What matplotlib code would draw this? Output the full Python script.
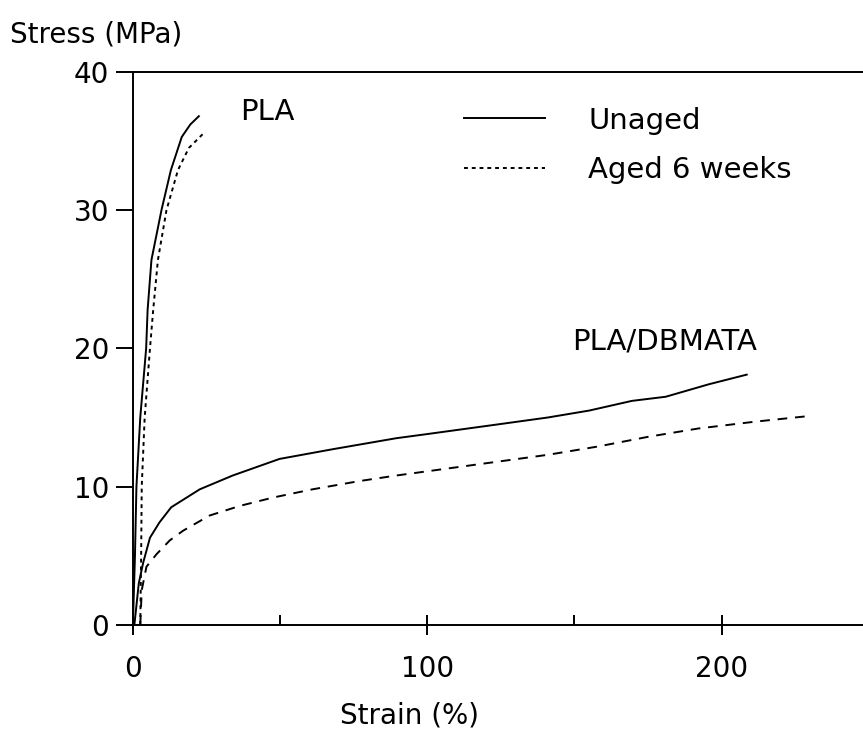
import matplotlib
matplotlib.use("Agg")
import matplotlib.pyplot as plt

# PLA, unaged / aged 6 weeks (strain %, stress MPa)
pla_unaged_strain = [0, 0.7, 1.2, 2.5, 4.5, 5.0, 6.3, 9.7, 12.9, 16.6, 19.5, 22.4]
pla_unaged_stress = [0, 5, 10, 15, 20, 22.8, 26.4, 30, 32.9, 35.3, 36.2, 36.8]
pla_aged_strain = [2.5, 2.8, 3.0, 4.0, 5.8, 6.9, 8.5, 11.4, 15.3, 19.0, 23.7]
pla_aged_stress = [0, 5, 10, 15, 20, 22.8, 26.4, 30, 32.9, 34.5, 35.5]

# PLA/DBMATA, unaged / aged 6 weeks
blend_unaged_strain = [0.5, 2, 3.5, 5.8, 9, 13, 22.7, 33.9, 49.8, 67.8, 89.5,
                       100, 124, 141, 155, 169.5, 181, 195.6, 208.5]
blend_unaged_stress = [0, 3, 4.5, 6.3, 7.4, 8.5, 9.8, 10.8, 12.0, 12.7, 13.5,
                       13.8, 14.5, 15.0, 15.5, 16.2, 16.5, 17.4, 18.1]
blend_aged_strain = [2.5, 3, 4.6, 8, 12.5, 17, 26, 36.3, 47.5, 61, 77, 89.5,
                     141, 158, 175, 192, 211.5, 229.5]
blend_aged_stress = [0, 2.5, 4.2, 5.1, 6.1, 6.8, 7.9, 8.6, 9.2, 9.8, 10.4, 10.8,
                     12.3, 12.9, 13.6, 14.2, 14.7, 15.1]

fig = plt.figure(figsize=(8.63, 7.42), dpi=100)
ax = fig.add_axes([0.154, 0.158, 0.846, 0.745])

lw = 1.4
ax.plot(pla_unaged_strain, pla_unaged_stress, color="black", lw=lw, label="Unaged")
ax.plot(pla_aged_strain, pla_aged_stress, color="black", lw=lw, linestyle=(0, (2, 2)),
        label="Aged 6 weeks")
ax.plot(blend_unaged_strain, blend_unaged_stress, color="black", lw=lw)
ax.plot(blend_aged_strain, blend_aged_stress, color="black", lw=lw, linestyle=(0, (5, 4)))

ax.set_xlim(0, 248)
ax.set_ylim(0, 40)
ax.spines["right"].set_visible(False)
for s in ("left", "bottom", "top"):
    ax.spines[s].set_linewidth(1.4)

ax.set_xticks([0, 100, 200])
ax.set_xticks([50, 150], minor=True)
ax.set_yticks([0, 10, 20, 30, 40])
ax.tick_params(axis="x", which="major", direction="inout", length=15, width=1.4,
               labelsize=20, pad=14)
ax.tick_params(axis="x", which="minor", direction="in", length=7, width=1.4)
ax.tick_params(axis="y", direction="out", length=12, width=1.4, labelsize=20, pad=5)

ax.text(0.147, 0.928, "PLA", transform=ax.transAxes, fontsize=21, va="center")
ax.text(0.602, 0.512, "PLA/DBMATA", transform=ax.transAxes, fontsize=21, va="center")

ax.legend(loc="upper left", bbox_to_anchor=(0.418, 0.985), frameon=False, fontsize=21,
          handlelength=2.75, handletextpad=1.5, labelspacing=0.75)

fig.text(0.012, 0.953, "Stress (MPa)", fontsize=20, va="center", ha="left")
fig.text(0.475, 0.036, "Strain (%)", fontsize=20, va="center", ha="center")

fig.savefig("out.png", dpi=100)
